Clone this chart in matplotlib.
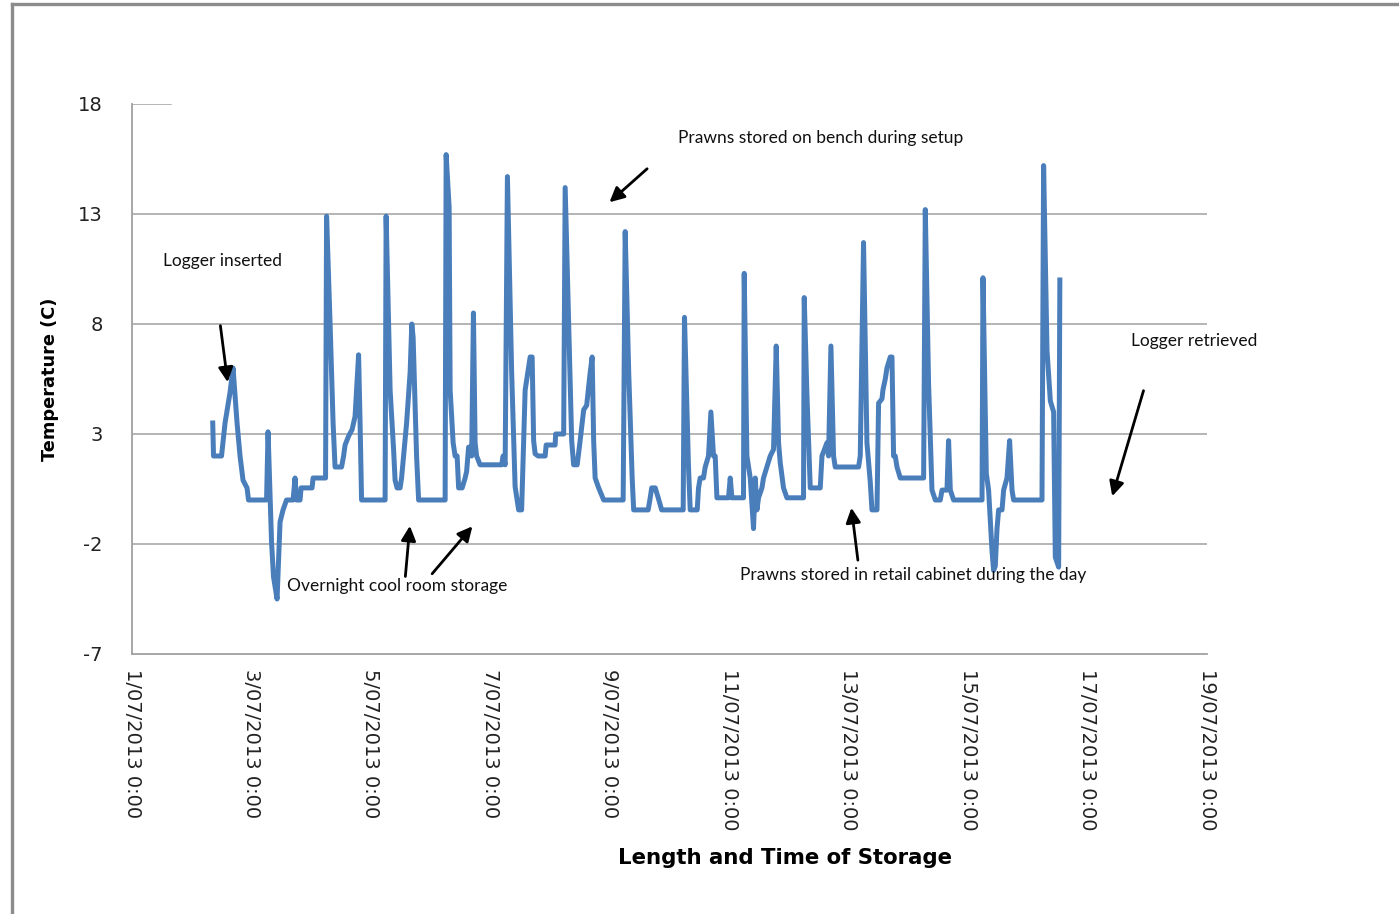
import matplotlib
matplotlib.use("Agg")
import matplotlib.pyplot as plt
import matplotlib.dates as mdates
import pandas as pd

plt.rcParams["axes.unicode_minus"] = False

# logger readings: days elapsed since 1/07/2013 0:00 and temperature (C)
days = [1.352, 1.365, 1.499, 1.558, 1.642, 1.692, 1.759, 1.809, 1.859, 1.926,
        1.951, 2.253, 2.278, 2.337, 2.370, 2.429, 2.479, 2.529, 2.588, 2.697,
        2.730, 2.755, 2.814, 2.831, 3.015, 3.032, 3.241, 3.258, 3.317, 3.367,
        3.400, 3.509, 3.543, 3.568, 3.626, 3.685, 3.735, 3.760, 3.794, 3.819,
        3.844, 4.238, 4.255, 4.322, 4.380, 4.405, 4.439, 4.489, 4.514, 4.598,
        4.657, 4.685, 4.707, 4.765, 4.799, 5.243, 5.260, 5.310, 5.327, 5.377,
        5.410, 5.444, 5.469, 5.528, 5.578, 5.603, 5.636, 5.662, 5.687, 5.717,
        5.745, 5.770, 5.829, 6.189, 6.214, 6.248, 6.286, 6.357, 6.415, 6.474,
        6.524, 6.558, 6.583, 6.616, 6.667, 6.700, 6.725, 6.750, 6.801, 6.918,
        6.935, 7.085, 7.094, 7.228, 7.253, 7.312, 7.362, 7.395, 7.454, 7.504,
        7.563, 7.613, 7.672, 7.705, 7.730, 7.755, 7.814, 7.898, 8.224, 8.258,
        8.317, 8.375, 8.400, 8.643, 8.677, 8.702, 8.761, 8.811, 8.869, 9.229,
        9.251, 9.318, 9.347, 9.464, 9.486, 9.514, 9.569, 9.598, 9.653, 9.693,
        9.737, 9.765, 9.794, 9.988, 10.017, 10.045, 10.239, 10.251, 10.296, 10.352,
        10.407, 10.436, 10.464, 10.491, 10.548, 10.574, 10.631, 10.687, 10.742, 10.787,
        10.826, 10.854, 10.909, 10.966, 11.244, 11.256, 11.301, 11.357, 11.524, 11.553,
        11.636, 11.663, 11.703, 11.747, 11.775, 12.166, 12.194, 12.249, 12.306, 12.362,
        12.390, 12.474, 12.501, 12.558, 12.574, 12.613, 12.641, 12.697, 12.725, 12.752,
        12.780, 12.809, 12.864, 13.255, 13.283, 13.338, 13.395, 13.451, 13.534, 13.563,
        13.646, 13.673, 13.702, 13.757, 14.233, 14.249, 14.305, 14.343, 14.400, 14.427,
        14.455, 14.484, 14.511, 14.568, 14.595, 14.651, 14.695, 14.735, 14.762, 15.237,
        15.264, 15.321, 15.377, 15.432, 15.460, 15.516, 15.536]
temps = [3.5, 2.0, 2.0, 3.5, 4.9, 6.0, 3.5, 2.0, 0.9, 0.55,
         0.0, 0.0, 3.1, -1.95, -3.5, -4.5, -1.0, -0.45, 0.0, 0.0,
         1.0, 0.0, 0.0, 0.55, 0.55, 1.0, 1.0, 12.9, 8.0, 3.5,
         1.5, 1.5, 2.0, 2.5, 2.9, 3.2, 3.8, 5.0, 6.6, 3.5,
         0.0, 0.0, 12.9, 5.0, 2.3, 0.9, 0.55, 0.55, 1.0, 3.5,
         5.8, 8.0, 7.4, 2.0, 0.0, 0.0, 15.7, 13.3, 5.0, 2.6,
         2.0, 2.0, 0.55, 0.55, 1.0, 1.3, 2.4, 2.4, 2.0, 8.5,
         2.6, 2.0, 1.6, 1.6, 2.0, 1.6, 14.7, 5.8, 0.6, -0.45,
         -0.45, 2.7, 5.0, 5.6, 6.5, 6.5, 2.7, 2.1, 2.0, 2.0,
         2.5, 2.5, 3.0, 3.0, 14.2, 8.0, 2.7, 1.6, 1.6, 2.7,
         4.1, 4.3, 5.8, 6.5, 2.7, 1.0, 0.55, 0.0, 0.0, 12.2,
         5.8, 1.0, -0.45, -0.45, 0.1, 0.55, 0.55, 0.1, -0.45, -0.45,
         8.3, 1.5, -0.45, -0.45, 0.55, 1.0, 1.0, 1.5, 2.0, 4.0,
         2.0, 2.0, 0.1, 0.1, 1.0, 0.1, 0.1, 10.3, 2.0, 1.0,
         -1.3, 1.0, -0.45, 0.1, 0.55, 1.0, 1.5, 2.0, 2.3, 7.0,
         2.6, 1.7, 0.55, 0.1, 0.1, 9.2, 4.8, 0.55, 0.55, 2.0,
         2.6, 2.0, 7.0, 2.0, 1.5, 1.5, 2.0, 11.7, 2.6, 0.8,
         -0.45, -0.45, 4.4, 4.6, 5.0, 5.5, 6.0, 6.5, 6.5, 2.0,
         2.0, 1.5, 1.0, 1.0, 13.2, 5.3, 0.45, 0.0, 0.0, 0.45,
         0.45, 2.7, 0.45, 0.0, 0.0, 10.1, 1.2, 0.45, -2.3, -3.2,
         -3.0, -1.3, -0.45, -0.45, 0.45, 1.0, 2.7, 0.45, 0.0, 0.0,
         15.2, 6.8, 4.5, 4.0, -2.6, -3.05, 10.0]

start = pd.Timestamp("2013-07-01 00:00")
end = pd.Timestamp("2013-07-19 00:00")
times = start + pd.to_timedelta(days, unit="D")
y_ticks = [-7, -2, 3, 8, 13, 18]
tick_dates = pd.date_range(start, end, freq="2D")

# notes: text, text position (day, temp), list of arrow (tail, head) in (day, temp)
notes = [
    ("Logger inserted", (0.52, 10.86), [((1.474, 8.05), (1.608, 5.23))]),
    ("Prawns stored on bench during setup", (9.15, 16.45), [((8.66, 15.14), (7.96, 13.45))]),
    ("Logger retrieved", (16.73, 7.23), [((16.95, 5.09), (16.40, 0.05))]),
    ("Overnight cool room storage", (2.60, -3.91),
     [((4.573, -3.6), (4.657, -1.05)), ((4.995, -3.45), (5.73, -1.1))]),
    ("Prawns stored in retail cabinet during the day", (10.18, -3.41),
     [((12.16, -2.86), (12.04, -0.23))]),
]


def to_date(d):
    return mdates.date2num(start + pd.Timedelta(days=d))


fig = plt.figure(figsize=(13.99, 9.14), dpi=100)
ax = fig.add_axes([132 / 1399, 1 - 654 / 914, 1075 / 1399, 550 / 914])

grid_c = "#a0a0a0"
for v in y_ticks[1:-1]:
    ax.axhline(v, color=grid_c, lw=1.1, zorder=1)
ax.axhline(18, xmin=0, xmax=0.036, color=grid_c, lw=1.1, zorder=1)

ax.plot(times, temps, color="#4a7ebb", lw=3.6, solid_joinstyle="round", zorder=3)

ax.set_xlim(start, end)
ax.set_ylim(-7, 18)
ax.set_yticks(y_ticks)
ax.set_xticks(tick_dates)
ax.xaxis.set_major_formatter(
    plt.FuncFormatter(lambda v, pos: (lambda t: f"{t.day}/{t:%m/%Y} {t.hour}:{t:%M}")(mdates.num2date(v))))

for s in ["top", "right"]:
    ax.spines[s].set_visible(False)
for s in ["left", "bottom"]:
    ax.spines[s].set_color(grid_c)
    ax.spines[s].set_linewidth(1.3)

ax.tick_params(axis="y", length=0, pad=21, labelsize=14, labelcolor="#222222")
ax.tick_params(axis="x", length=0, pad=11, labelsize=14, labelcolor="#222222", labelrotation=270)
for lab in ax.get_xticklabels():
    lab.set_va("top")
    lab.set_ha("center")

ax.set_ylabel("Temperature (C)", fontsize=12.8, fontweight="bold")
ax.yaxis.set_label_coords(-0.068, 0.5)
ax.set_xlabel("Length and Time of Storage", fontsize=15.3, fontweight="bold")
ax.xaxis.set_label_coords(0.607, -0.352)

for text, pos, arrows in notes:
    ax.text(to_date(pos[0]), pos[1], text, fontsize=12.5, family=["Lato", "DejaVu Sans"],
            ha="left", va="center", color="#111111")
    for tail, head in arrows:
        ax.annotate("", xy=(to_date(head[0]), head[1]), xytext=(to_date(tail[0]), tail[1]),
                    arrowprops=dict(arrowstyle="-|>", color="black", lw=2.0, mutation_scale=22),
                    annotation_clip=False)

# outer chart frame, only the top and left edges show
fig.add_artist(plt.Line2D([12 / 1399, 12 / 1399], [0, 1 - 4 / 914], color="#8c8c8c", lw=2.4))
fig.add_artist(plt.Line2D([12 / 1399, 1], [1 - 4 / 914, 1 - 4 / 914], color="#8c8c8c", lw=2.4))

fig.savefig("out.png", dpi=100)
